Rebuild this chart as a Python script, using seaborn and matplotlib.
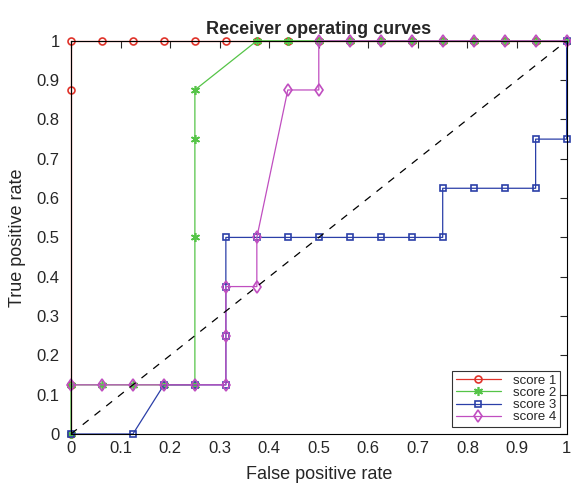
import numpy as np
import pandas as pd
import seaborn as sns
import matplotlib
matplotlib.use('Agg')
import matplotlib.pyplot as plt

# ROC points (FPR step 1/16, TPR step 1/8)
fpr1 = [0, 0, 0, 0, 0.0625, 0.125, 0.1875, 0.25, 0.3125, 0.375, 0.4375, 0.5, 0.5625, 0.625, 0.6875, 0.75, 0.8125, 0.875, 0.9375, 1]
tpr1 = [0, 0.125, 0.875, 1, 1, 1, 1, 1, 1, 1, 1, 1, 1, 1, 1, 1, 1, 1, 1, 1]

fpr2 = [0, 0, 0.0625, 0.125, 0.1875, 0.25, 0.25, 0.25, 0.25, 0.375, 0.4375, 0.5, 0.5625, 0.625, 0.6875, 0.75, 0.8125, 0.875, 0.9375, 1]
tpr2 = [0, 0.125, 0.125, 0.125, 0.125, 0.125, 0.5, 0.75, 0.875, 1, 1, 1, 1, 1, 1, 1, 1, 1, 1, 1]

fpr3 = [0, 0.125, 0.1875, 0.25, 0.3125, 0.3125, 0.3125, 0.3125, 0.375, 0.4375, 0.5, 0.5625, 0.625, 0.6875, 0.75, 0.75, 0.8125, 0.875, 0.9375, 0.9375, 1, 1]
tpr3 = [0, 0, 0.125, 0.125, 0.125, 0.25, 0.375, 0.5, 0.5, 0.5, 0.5, 0.5, 0.5, 0.5, 0.5, 0.625, 0.625, 0.625, 0.625, 0.75, 0.75, 1]

fpr4 = [0, 0.0625, 0.125, 0.1875, 0.25, 0.3125, 0.3125, 0.3125, 0.375, 0.375, 0.4375, 0.5, 0.5, 0.5625, 0.625, 0.6875, 0.75, 0.8125, 0.875, 0.9375, 1]
tpr4 = [0.125, 0.125, 0.125, 0.125, 0.125, 0.125, 0.25, 0.375, 0.375, 0.5, 0.875, 0.875, 1, 1, 1, 1, 1, 1, 1, 1, 1]

names = ['score 1', 'score 2', 'score 3', 'score 4']
colors = ['#e0332a', '#55c447', '#2b3fa8', '#c04ec0']
markers = ['o', (6, 2, 0), 's', 'd']
msizes = [5, 6.5, 5, 6]

sns.set_style('white')
plt.rcParams['font.family'] = ['Liberation Sans', 'DejaVu Sans']

fig = plt.figure(figsize=(5.71, 4.86), dpi=100)
ax = fig.add_axes([0.1243, 0.107, 0.868, 0.809])

series = [(fpr1, tpr1), (fpr2, tpr2), (fpr3, tpr3), (fpr4, tpr4)]
for (x, y), name, c, m, ms in zip(series, names, colors, markers, msizes):
    df = pd.DataFrame({'fpr': x, 'tpr': y})
    sns.lineplot(data=df, x='fpr', y='tpr', sort=False, estimator=None, ax=ax,
                 color=c, marker=m, markersize=ms, markerfacecolor='none',
                 markeredgecolor=c, markeredgewidth=1.2, linewidth=0.9,
                 label=name, clip_on=False)

sns.lineplot(x=[0, 1], y=[0, 1], ax=ax, color='black', linestyle=(0, (6, 6)),
             linewidth=0.9, legend=False)

ax.set_xlim(0, 1)
ax.set_ylim(0, 1)
ticks = np.arange(0, 1.01, 0.1)
labels = ['0'] + ['%.1f' % t for t in ticks[1:-1]] + ['1']
ax.set_xticks(ticks)
ax.set_xticklabels(labels)
ax.set_yticks(ticks)
ax.set_yticklabels(labels)
ax.tick_params(direction='in', length=5, width=0.8, top=True, right=True,
               labelsize=12)
ax.tick_params(axis='y', pad=8)
ax.tick_params(axis='x', pad=5)
for s in ax.spines.values():
    s.set_color('black')
    s.set_linewidth(0.8)

ax.set_xlabel('False positive rate', fontsize=13, labelpad=7)
ax.set_ylabel('True positive rate', fontsize=13, labelpad=8)
ax.set_title('Receiver operating curves', fontsize=13, fontweight='bold', pad=5)

leg = ax.legend(loc='lower right', fontsize=9.5, frameon=True, fancybox=False,
                edgecolor='black', borderpad=0.3, labelspacing=0.0,
                handlelength=3.4, handletextpad=0.9, borderaxespad=0.5)
leg.get_frame().set_linewidth(0.8)

fig.savefig('out.png', dpi=100)
